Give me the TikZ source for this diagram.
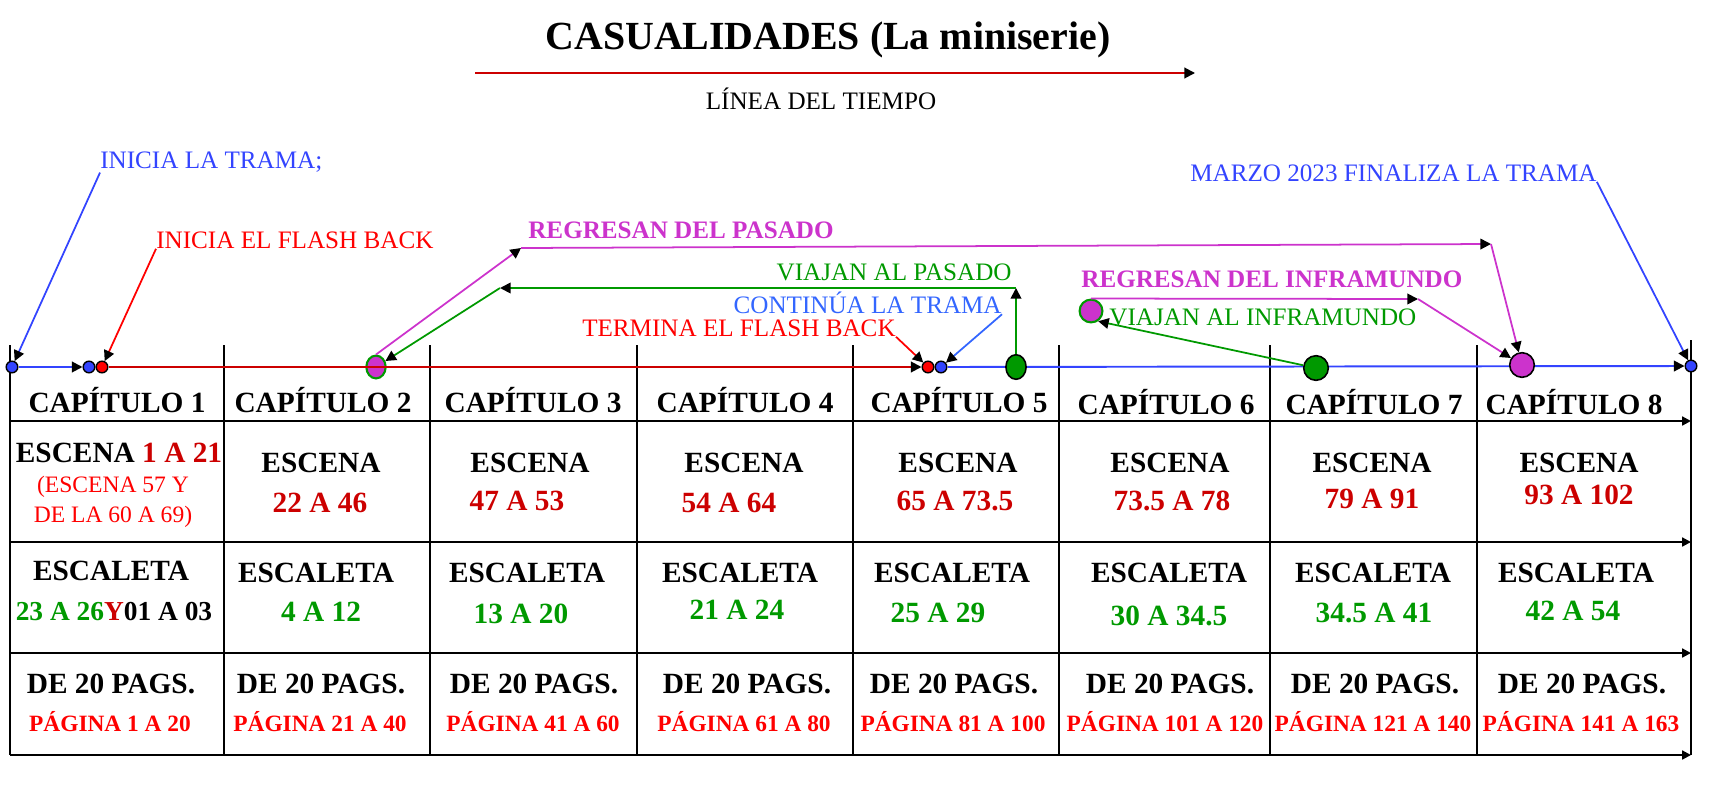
\documentclass[tikz,border=0pt]{standalone}
\usepackage{fontspec}
\setmainfont{Liberation Serif}
\usetikzlibrary{arrows.meta, positioning, shapes.geometric}
\definecolor{TimeRed}{HTML}{CC0000}
\definecolor{SceneRed}{HTML}{CC0000}
\definecolor{PageRed}{HTML}{FF0000}
\definecolor{TimeBlue}{HTML}{3344FF}
\definecolor{TramaBlue}{HTML}{3366FF}
\definecolor{PastGreen}{HTML}{009900}
\definecolor{PastMagenta}{HTML}{CC33CC}

\begin{document}
\begin{tikzpicture}[x=0.02cm, y=-0.02cm,
  >={Triangle[length=6pt, width=6pt, color=black]},
  lbl/.style={inner sep=0pt, font=\fontsize{14.3}{16}\selectfont},
  blbl/.style={inner sep=0pt, font=\bfseries\fontsize{14.3}{16}\selectfont},
  cell/.style={inner sep=0pt, font=\bfseries\fontsize{16.7}{19}\selectfont},
  sub/.style={inner sep=0pt, font=\bfseries\fontsize{13.3}{15}\selectfont, text=PageRed},
  dot/.style={circle, draw=black, line width=0.8pt, inner sep=0pt, minimum size=6.6pt},
  blob/.style={ellipse, draw=black, line width=0.9pt, inner sep=0pt},
  grid line/.style={line width=1.2pt},
  note/.style={->, line width=1pt}]
  \useasboundingbox (0,0) rectangle (1714,791);

  \node[inner sep=0pt, font=\bfseries\fontsize{22.7}{26}\selectfont] (title) at (828,40)
    {CASUALIDADES (La miniserie)};
  \coordinate (tl) at (475,73);
  \coordinate (tr) at (1195,73);
  \draw[->, TimeRed, line width=1.1pt] (tl) -- (tr);
  \node[lbl] (linea) at (821,99) {LÍNEA DEL TIEMPO};

  \foreach \x in {10,224,430,637,853,1059,1270,1477}
    \draw[grid line] (\x,345) -- (\x,755);
  \draw[grid line] (1691,340) -- (1691,755);
  \foreach \y in {421,542,653,755}
    \draw[grid line, -{Triangle[length=5pt, width=5pt]}] (10,\y) -- (1691,\y);

  \node[dot, fill=TimeBlue] (start) at (12,367) {};
  \node[dot, fill=TimeBlue] (trama1) at (89,367) {};
  \node[dot, fill=PageRed] (fb1) at (102,367) {};
  \node[dot, fill=PageRed] (fb2) at (928,367) {};
  \node[dot, fill=TimeBlue] (trama2) at (941,367) {};
  \node[dot, fill=TimeBlue] (fin) at (1691,366) {};
  \node[blob, draw=PastGreen, line width=1.2pt, fill=PastMagenta, minimum width=11pt,
    minimum height=13pt] (pas) at (376,367) {};
  \draw[->, TimeBlue, line width=1.1pt] (start) -- (trama1);
  \draw[->, TimeRed, line width=1.1pt] (fb1) -- (fb2);
  \draw[->, TimeBlue, line width=1.1pt] (trama2) -- (fin);
  \node[blob, fill=PastGreen, minimum width=11.5pt, minimum height=14pt] (ida) at (1016,367) {};
  \node[blob, draw=PastGreen, line width=1.2pt, fill=PastMagenta, minimum size=13pt] (inf) at (1091,311) {};
  \node[blob, fill=PastGreen, minimum size=14pt] (idainf) at (1316,368) {};
  \node[blob, fill=PastMagenta, minimum size=14pt] (vuelta) at (1522,365) {};

  \node[lbl, anchor=west, text=TimeBlue] (inicio) at (100,162) {INICIA LA TRAMA;};
  \draw[note, TimeBlue] (inicio.south west) -- (start);
  \node[lbl, anchor=west, text=PageRed] (fbini) at (156,240) {INICIA EL FLASH BACK};
  \draw[note, PageRed] (fbini.south west) -- (fb1);
  \node[lbl, anchor=east, text=PageRed] (fbfin) at (896,328) {TERMINA EL FLASH BACK};
  \draw[note, PageRed] (fbfin.south east) -- (fb2);
  \node[lbl, anchor=east, text=TramaBlue] (sigue) at (1002,303) {CONTINÚA LA TRAMA};
  \draw[note, TramaBlue] (sigue.south east) -- (trama2);
  \node[lbl, anchor=west, text=TimeBlue] (marzo) at (1190,173) {MARZO 2023 FINALIZA LA TRAMA};
  \draw[note, TimeBlue] (marzo.south east) -- (fin);

  \node[blbl, anchor=west, text=PastMagenta] (regpas) at (528,230) {REGRESAN DEL PASADO};
  \coordinate (rp1) at (521,248);
  \coordinate (rp2) at (1491,244);
  \draw[note, PastMagenta] (pas.north) -- (rp1);
  \draw[note, PastMagenta] (rp1) -- (rp2);
  \draw[note, PastMagenta] (rp2) -- (vuelta);

  \node[lbl, anchor=east, text=PastGreen] (viapas) at (1012,272) {VIAJAN AL PASADO};
  \coordinate (vp1) at (1016,288);
  \coordinate (vp2) at (500,288);
  \draw[note, PastGreen] (ida) -- (vp1);
  \draw[note, PastGreen] (vp1) -- (vp2);
  \draw[note, PastGreen] (vp2) -- (pas);

  \node[blbl, anchor=west, text=PastMagenta] (reginf) at (1081,279) {REGRESAN DEL INFRAMUNDO};
  \coordinate (ri1) at (1418,299);
  \draw[note, PastMagenta] (inf.north) -- (ri1);
  \draw[note, PastMagenta] (ri1) -- (vuelta);
  \node[lbl, anchor=west, text=PastGreen] (viainf) at (1109,317) {VIAJAN AL INFRAMUNDO};
  \draw[note, PastGreen] (idainf) -- (inf.-55);

  \foreach \c/\x in {1/117,2/323,3/533,4/745,5/959}
    \node[cell] (cap\c) at (\x,400) {CAPÍTULO \c};
  \foreach \c/\x in {6/1166,7/1374,8/1574}
    \node[cell] (cap\c) at (\x,402) {CAPÍTULO \c};

  \node[cell] (esc1) at (119,453) {ESCENA \textcolor{SceneRed}{1 A 21}};
  \node[inner sep=0pt, font=\fontsize{13.4}{17}\selectfont, text=PageRed, align=center]
    (escx1) at (113,502) {(ESCENA 57 Y\\DE LA 60 A 69)};
  \foreach \c/\x/\xn/\yn/\rango in {2/321/320/503/22 A 46, 3/530/517/501/47 A 53,
      4/744/729/503/54 A 64, 5/958/955/501/65 A 73.5, 6/1170/1172/501/73.5 A 78,
      7/1372/1372/499/79 A 91, 8/1579/1579/495/93 A 102} {
    \node[cell] (esc\c) at (\x,463) {ESCENA};
    \node[cell, text=SceneRed] (escn\c) at (\xn,\yn) {\rango};
  }

  \node[cell] (escl1) at (111,571) {ESCALETA};
  \node[cell, font=\bfseries\fontsize{15.6}{19}\selectfont] (escln1) at (114,612)
    {\textcolor{PastGreen}{23 A 26}\textcolor{SceneRed}{Y}01 A 03};
  \foreach \c/\x/\xn/\yn/\rango in {2/316/321/612/4 A 12, 3/527/521/614/13 A 20,
      4/740/737/610/21 A 24, 5/952/938/613/25 A 29, 6/1169/1169/616/30 A 34.5,
      7/1373/1374/613/34.5 A 41, 8/1576/1573/611/42 A 54} {
    \node[cell] (escl\c) at (\x,573) {ESCALETA};
    \node[cell, text=PastGreen] (escln\c) at (\xn,\yn) {\rango};
  }

  \foreach \c/\x/\xp/\pags in {1/111/110/1 A 20, 2/321/320/21 A 40, 3/534/533/41 A 60,
      4/747/744/61 A 80, 5/954/953/81 A 100, 6/1170/1165/101 A 120,
      7/1375/1373/121 A 140, 8/1582/1581/141 A 163} {
    \node[cell] (de\c) at (\x,684) {DE 20 PAGS.};
    \node[sub] (pag\c) at (\xp,722) {PÁGINA \pags};
  }
\end{tikzpicture}
\end{document}
